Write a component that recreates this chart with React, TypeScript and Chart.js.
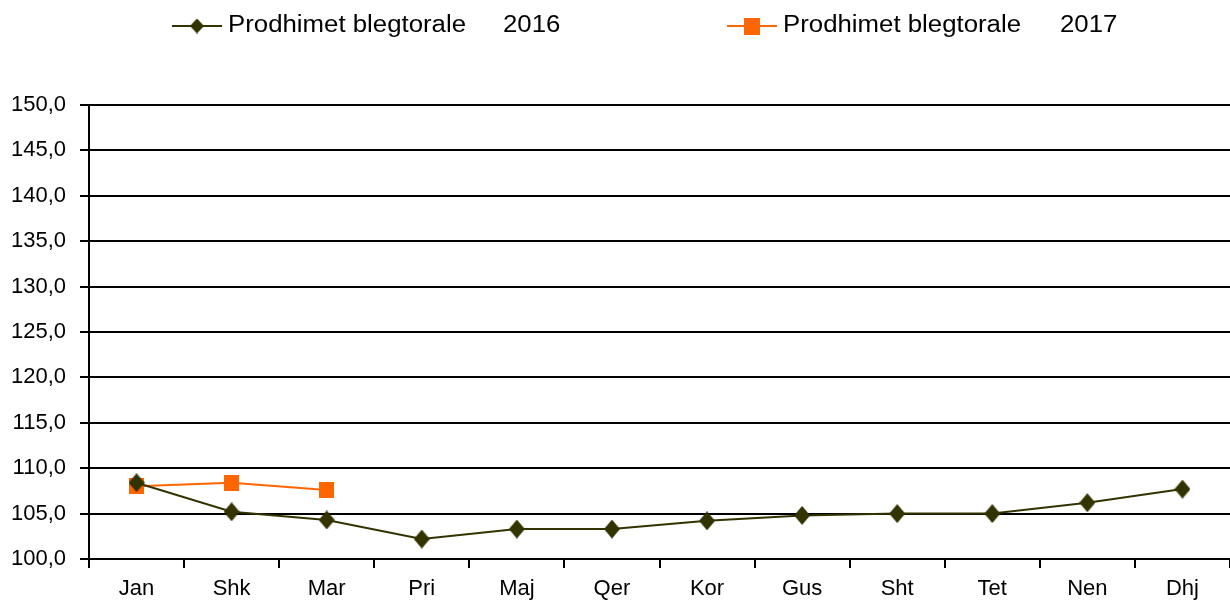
import React, { useEffect, useRef } from "react";
import { Chart, registerables } from "chart.js";

Chart.register(...registerables);

const categories = ["Jan", "Shk", "Mar", "Pri", "Maj", "Qer", "Kor", "Gus", "Sht", "Tet", "Nen", "Dhj"];
const seriesName = "Prodhimet blegtorale";
const years = ["2016", "2017"];
const values2016 = [108.4, 105.2, 104.3, 102.2, 103.3, 103.3, 104.2, 104.8, 105.0, 105.0, 106.2, 107.7];
const values2017 = [108.0, 108.4, 107.6];
const yMin = 100;
const yMax = 150;
const yStep = 5;

const FONT = "'Liberation Sans', Arial, sans-serif";
const COLOR_2016 = "#333300";
const COLOR_2017 = "#FF6600";

function makeDiamond(w: number, h: number, color: string) {
  const c = document.createElement("canvas");
  c.width = w;
  c.height = h;
  const ctx = c.getContext("2d")!;
  ctx.fillStyle = color;
  ctx.beginPath();
  ctx.moveTo(w / 2, 0);
  ctx.lineTo(w, h / 2);
  ctx.lineTo(w / 2, h);
  ctx.lineTo(0, h / 2);
  ctx.closePath();
  ctx.fill();
  return c;
}

function makeSquare(w: number, h: number, color: string) {
  const c = document.createElement("canvas");
  c.width = w;
  c.height = h;
  const ctx = c.getContext("2d")!;
  ctx.fillStyle = color;
  ctx.fillRect(0, 0, w, h);
  return c;
}

export default function App() {
  const ref = useRef<HTMLCanvasElement>(null);
  useEffect(() => {
    document.body.style.margin = "0";
    const diamond = makeDiamond(16, 19, COLOR_2016);
    const square = makeSquare(15, 16, COLOR_2017);
    const legDiamond = makeDiamond(14, 15, COLOR_2016);
    const legSquare = makeSquare(16, 17, COLOR_2017);

    const legendPlugin = {
      id: "customLegend",
      afterDraw(chart: any) {
        const ctx = chart.ctx;
        const items = [
          { x: 172, textX: 228, yearX: 503, color: COLOR_2016, img: legDiamond, year: years[0] },
          { x: 727, textX: 783, yearX: 1060, color: COLOR_2017, img: legSquare, year: years[1] },
        ];
        const y = 26;
        ctx.save();
        items.forEach((it) => {
          ctx.strokeStyle = it.color;
          ctx.lineWidth = 2;
          ctx.beginPath();
          ctx.moveTo(it.x, y);
          ctx.lineTo(it.x + 50, y);
          ctx.stroke();
          ctx.drawImage(it.img, it.x + 25 - it.img.width / 2, y - it.img.height / 2);
          ctx.fillStyle = "#000";
          ctx.font = "23px " + FONT;
          ctx.textBaseline = "middle";
          ctx.textAlign = "left";
          const w = ctx.measureText(seriesName).width;
          const sx = 238 / w;
          ctx.save();
          ctx.translate(it.textX, y);
          ctx.scale(sx, 1);
          ctx.fillText(seriesName, 0, 0);
          ctx.fillText(it.year, (it.yearX - it.textX) / sx, 0);
          ctx.restore();
        });
        ctx.restore();
      },
    };

    const chart = new Chart(ref.current!, {
      type: "line",
      data: {
        labels: categories,
        datasets: [
          {
            label: seriesName + " " + years[0],
            data: values2016,
            borderColor: COLOR_2016,
            backgroundColor: COLOR_2016,
            pointStyle: diamond,
            borderWidth: 2,
            tension: 0,
            clip: false,
          } as any,
          {
            label: seriesName + " " + years[1],
            data: values2017,
            borderColor: COLOR_2017,
            backgroundColor: COLOR_2017,
            pointStyle: square,
            borderWidth: 2,
            tension: 0,
            clip: false,
          } as any,
        ],
      },
      options: {
        animation: false,
        responsive: false,
        maintainAspectRatio: false,
        layout: { autoPadding: false, padding: { top: 105, right: 0, left: 0, bottom: 0 } },
        plugins: { legend: { display: false }, tooltip: { enabled: false } },
        scales: {
          x: {
            offset: true,
            grid: {
              display: true,
              offset: true,
              drawOnChartArea: false,
              drawTicks: true,
              tickLength: 9,
              color: "#000",
              lineWidth: 2,
            },
            border: { display: true, color: "#000", width: 2 },
            ticks: { color: "#000", font: { family: FONT, size: 22 }, padding: 8 },
            afterFit(scale: any) {
              scale.height = 42;
              scale.paddingRight = 0;
              scale.paddingLeft = 0;
            },
          },
          y: {
            min: yMin,
            max: yMax,
            grid: { color: "#000", lineWidth: 2, tickLength: 9 },
            border: { display: true, color: "#000", width: 2 },
            ticks: {
              stepSize: yStep,
              color: "#000",
              font: { family: FONT, size: 22 },
              padding: 14,
              callback: (v: any) => Number(v).toFixed(1).replace(".", ","),
            },
            afterFit(scale: any) {
              scale.width = 89;
              scale.paddingTop = 0;
              scale.paddingBottom = 0;
            },
          },
        },
      },
      plugins: [legendPlugin],
    });
    return () => chart.destroy();
  }, []);
  return (
    <div style={{ width: 1230, height: 601 }}>
      <canvas ref={ref} width={1230} height={601} style={{ display: "block" }} />
    </div>
  );
}
